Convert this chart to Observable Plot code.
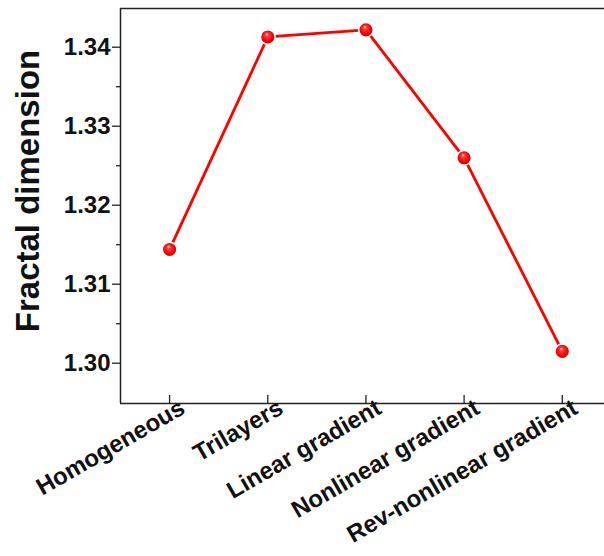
<!DOCTYPE html>
<html>
<head>
<meta charset="utf-8">
<script src="https://cdn.jsdelivr.net/npm/d3@7"></script>
<script src="https://cdn.jsdelivr.net/npm/@observablehq/plot@0.6"></script>
<style>
  html, body { margin: 0; padding: 0; background: #fff; }
  #chart svg { display: block; }
</style>
</head>
<body>
<div id="chart"></div>
<script>
const categories = ["Homogeneous", "Trilayers", "Linear gradient", "Nonlinear gradient", "Rev-nonlinear gradient"];
const values = [1.3144, 1.3413, 1.3422, 1.3260, 1.3015];
const yTicks = [1.30, 1.31, 1.32, 1.33, 1.34];
const yMinorTicks = [1.305, 1.315, 1.325, 1.335];
const yTitle = "Fractal dimension";

const rows = categories.map((c, i) => ({i, category: c, value: values[i]}));
const idx = categories.map((c, i) => i);

const W = 604, H = 556;
const mTop = 8, mBottom = 153, mLeft = 120, mRight = 0;
const yDomain = [1.2949, 1.3449];
const xDomain = [-0.5, 4.43];
const font = "'Liberation Sans', Arial, Helvetica, sans-serif";
const axisColor = "#222";

const defs = () => {
  const ns = "http://www.w3.org/2000/svg";
  const d = document.createElementNS(ns, "defs");
  d.innerHTML = `<radialGradient id="sphere" cx="0.5" cy="0.5" r="0.55" fx="0.42" fy="0.3">
      <stop offset="0%" stop-color="#ffe0e0"/>
      <stop offset="22%" stop-color="#ff3a3a"/>
      <stop offset="70%" stop-color="#ee0000"/>
      <stop offset="100%" stop-color="#b80000"/>
    </radialGradient>`;
  return d;
};

const chart = Plot.plot({
  width: W,
  height: H,
  marginTop: mTop,
  marginBottom: mBottom,
  marginLeft: mLeft,
  marginRight: mRight,
  style: {fontFamily: font, background: "#fff", overflow: "visible"},
  x: {type: "linear", domain: xDomain, axis: null},
  y: {domain: yDomain},
  marks: [
    defs,
    // frame: left, top, bottom
    Plot.ruleX([xDomain[0]], {stroke: axisColor, strokeWidth: 1.5}),
    Plot.ruleY([yDomain[0]], {stroke: axisColor, strokeWidth: 1.5}),
    Plot.ruleY([yDomain[1]], {stroke: axisColor, strokeWidth: 1.5}),
    // x ticks (inward)
    Plot.ruleX(idx, {x: d => d, insetTop: (H - mTop - mBottom) - 8, stroke: axisColor, strokeWidth: 1.3}),
    // y axis major
    Plot.axisY({ticks: yTicks, tickSize: 8, tickPadding: 2, tickFormat: d3.format(".2f"),
      fontSize: 24, fontWeight: "bold", fill: "#111", stroke: axisColor, strokeWidth: 1.3, label: null}),
    // y axis minor
    Plot.axisY({ticks: yMinorTicks, tickSize: 4, tickFormat: () => "", stroke: axisColor, strokeWidth: 1.3, label: null}),
    // x tick labels
    Plot.text(rows, {x: "i", text: "category", frameAnchor: "bottom", rotate: -30,
      textAnchor: "end", lineAnchor: "bottom", dx: 17, dy: 9,
      fontSize: 24, fontWeight: "bold", fill: "#111"}),
    // y title
    Plot.text([yTitle], {frameAnchor: "left", rotate: -90, dx: -92, dy: -15,
      fontSize: 33, fontWeight: "bold", fill: "#111", textAnchor: "middle", lineAnchor: "middle"}),
    // data
    Plot.line(rows, {x: "i", y: "value", stroke: "#ff0000", strokeWidth: 2.8}),
    Plot.dot(rows, {x: "i", y: "value", r: 7.3, fill: "url(#sphere)", stroke: "#fff", strokeWidth: 1.5})
  ]
});
document.getElementById("chart").append(chart);
</script>
</body>
</html>
